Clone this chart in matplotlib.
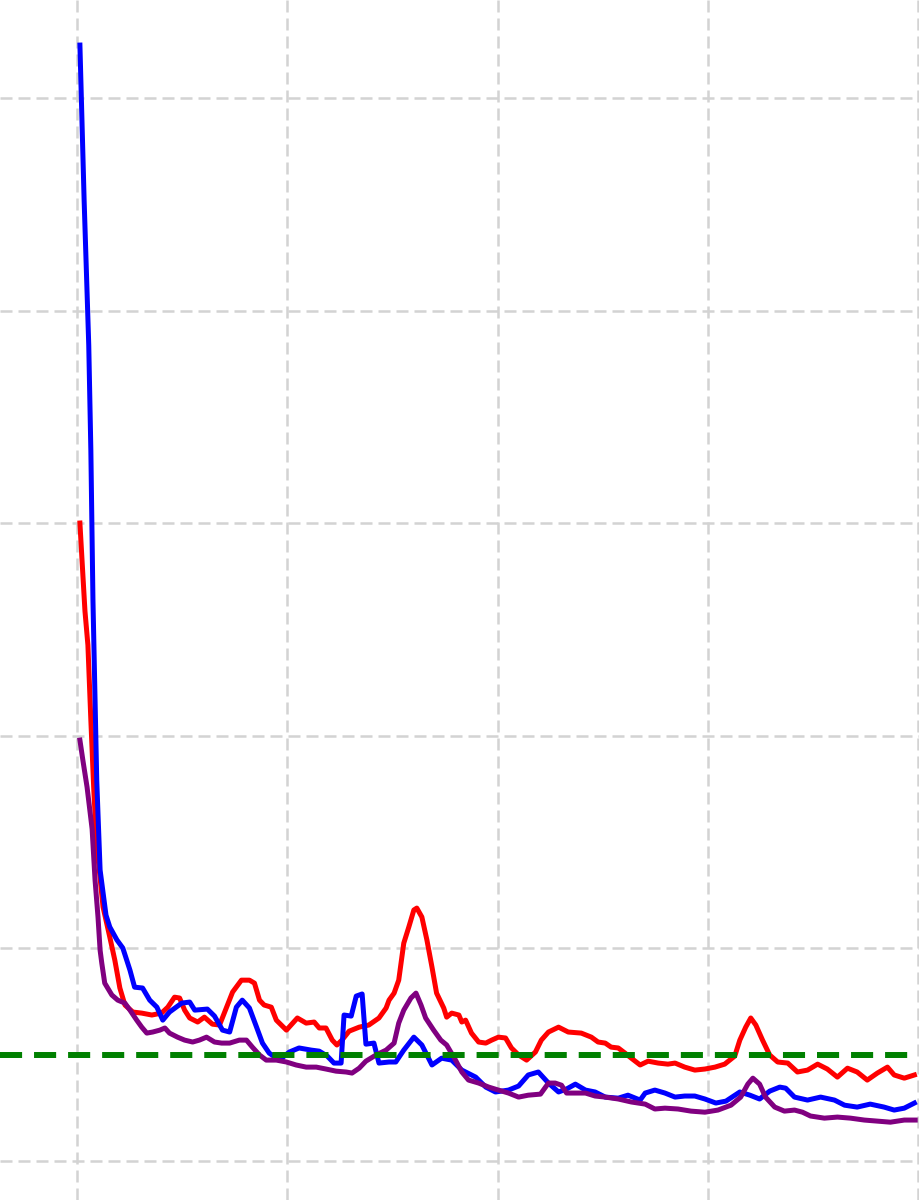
import matplotlib

matplotlib.use("Agg")
import matplotlib.pyplot as plt

# values (x: epoch, y: loss)
blue_x = [0.7, 1.7, 2.8, 3.3, 3.8, 4.3, 4.7, 5.5, 6.9, 7.8, 9.5, 10.9, 12.6, 13.7,
          15.6, 17.3, 19.0, 20.4, 22.0, 24.9, 26.8, 28.0, 31.0, 32.7, 34.6, 36.3,
          37.9, 39.3, 41.0, 42.7, 44.1, 45.7, 48.1, 50.5, 52.8, 55.7, 57.6, 59.5,
          61.1, 62.8, 63.5, 65.2, 66.4, 67.8, 68.7, 70.6, 71.8, 74.2, 75.8, 77.7,
          80.1, 82.0, 84.4, 86.7, 89.1, 91.5, 94.8, 97.2, 99.5, 102.6, 105.0,
          107.3, 109.7, 112.1, 114.5, 116.4, 118.5, 120.9, 123.2, 125.6, 128.7,
          131.0, 133.9, 135.1, 137.4, 139.8, 142.2, 144.5, 146.9, 149.3, 151.9,
          154.3, 157.6, 160.0, 162.3, 164.7, 167.1, 168.5, 170.6, 173.7, 176.8,
          180.1, 182.5, 185.5, 188.6, 191.9, 194.3, 196.7, 199.1]
blue_y = [5.249, 4.520, 3.838, 3.344, 2.639, 2.168, 1.792, 1.369, 1.157, 1.101,
          1.040, 1.002, 0.898, 0.818, 0.814, 0.757, 0.724, 0.663, 0.701, 0.743,
          0.748, 0.710, 0.715, 0.682, 0.616, 0.607, 0.724, 0.757, 0.720, 0.630,
          0.555, 0.508, 0.475, 0.513, 0.532, 0.522, 0.517, 0.494, 0.461, 0.461,
          0.687, 0.682, 0.776, 0.786, 0.550, 0.555, 0.461, 0.466, 0.466, 0.522,
          0.583, 0.546, 0.452, 0.484, 0.475, 0.428, 0.395, 0.348, 0.325, 0.334,
          0.353, 0.405, 0.419, 0.367, 0.325, 0.339, 0.362, 0.334, 0.325, 0.301,
          0.296, 0.310, 0.287, 0.320, 0.334, 0.320, 0.301, 0.306, 0.306, 0.292,
          0.273, 0.282, 0.325, 0.310, 0.292, 0.329, 0.348, 0.343, 0.301, 0.287,
          0.301, 0.287, 0.263, 0.254, 0.268, 0.254, 0.240, 0.249, 0.273]

red_x = [0.7, 1.2, 1.9, 2.6, 3.3, 4.0, 4.7, 6.2, 7.8, 9.0, 10.2, 11.4, 13.3, 15.4,
         17.8, 20.1, 21.6, 23.2, 24.4, 25.6, 26.8, 28.7, 30.3, 32.2, 33.9, 35.5,
         37.0, 39.1, 41.0, 42.2, 43.4, 44.5, 46.2, 47.4, 49.8, 52.4, 54.5, 56.4,
         57.6, 59.2, 60.7, 61.8, 63.0, 64.7, 67.1, 69.4, 71.8, 73.5, 74.2, 75.4,
         76.5, 77.7, 78.9, 80.1, 80.8, 82.0, 83.2, 84.4, 85.5, 87.2, 87.9, 89.1,
         90.8, 91.5, 92.4, 93.8, 95.5, 97.2, 98.6, 100.2, 101.9, 103.3, 105.0,
         106.9, 109.0, 110.4, 112.1, 114.5, 116.8, 119.9, 122.3, 123.9, 125.6,
         127.0, 128.7, 130.3, 131.8, 133.9, 135.8, 138.2, 140.5, 142.2, 144.5,
         146.9, 149.3, 151.7, 154.0, 156.4, 157.6, 159.0, 160.2, 161.4, 163.0,
         164.7, 166.6, 169.0, 171.3, 173.7, 176.1, 178.4, 180.8, 183.2, 185.5,
         187.9, 190.3, 192.7, 194.3, 196.7, 199.1]
red_y = [3.001, 2.827, 2.587, 2.427, 2.074, 1.745, 1.486, 1.195, 1.054, 0.945,
         0.814, 0.734, 0.701, 0.696, 0.687, 0.696, 0.724, 0.771, 0.767, 0.710,
         0.673, 0.654, 0.677, 0.644, 0.640, 0.720, 0.795, 0.851, 0.851, 0.837,
         0.757, 0.734, 0.724, 0.663, 0.616, 0.673, 0.649, 0.654, 0.626, 0.626,
         0.569, 0.546, 0.569, 0.611, 0.630, 0.640, 0.673, 0.720, 0.757, 0.790,
         0.851, 1.025, 1.101, 1.181, 1.190, 1.148, 1.040, 0.913, 0.790, 0.720,
         0.677, 0.696, 0.687, 0.654, 0.663, 0.602, 0.560, 0.555, 0.569, 0.583,
         0.579, 0.532, 0.499, 0.475, 0.513, 0.569, 0.607, 0.630, 0.607, 0.602,
         0.583, 0.560, 0.555, 0.536, 0.532, 0.508, 0.484, 0.452, 0.470, 0.461,
         0.456, 0.461, 0.442, 0.428, 0.433, 0.442, 0.456, 0.494, 0.569, 0.630,
         0.673, 0.640, 0.569, 0.499, 0.466, 0.461, 0.419, 0.428, 0.456, 0.433,
         0.395, 0.437, 0.419, 0.381, 0.414, 0.442, 0.405, 0.390, 0.405]

purple_x = [0.7, 1.4, 2.4, 3.6, 4.3, 5.0, 5.5, 5.9, 6.6, 8.3, 9.7, 11.4, 12.6,
            14.2, 15.4, 16.6, 18.0, 19.7, 20.9, 22.0, 23.9, 25.6, 27.5, 29.1,
            30.8, 32.7, 34.4, 36.3, 38.6, 40.3, 41.7, 43.4, 45.0, 47.4, 49.8,
            52.1, 54.5, 56.9, 59.2, 61.6, 64.0, 65.4, 67.1, 68.7, 71.1, 73.5,
            75.4, 76.5, 77.7, 79.4, 80.6, 81.8, 82.9, 84.8, 86.5, 87.9, 90.0,
            91.5, 93.1, 95.5, 97.9, 100.2, 102.6, 105.0, 107.3, 110.2, 112.1,
            113.7, 115.2, 116.4, 118.5, 120.9, 123.2, 125.6, 128.7, 131.8, 135.1,
            137.4, 139.8, 142.9, 146.0, 149.3, 152.4, 155.5, 157.8, 159.5, 160.7,
            162.3, 163.7, 165.9, 168.2, 170.6, 172.5, 174.4, 177.7, 180.8, 183.9,
            187.2, 190.3, 193.4, 196.7, 199.3]
purple_y = [1.980, 1.886, 1.759, 1.562, 1.322, 1.148, 0.992, 0.931, 0.837, 0.781,
            0.757, 0.743, 0.710, 0.663, 0.630, 0.602, 0.607, 0.616, 0.626, 0.602,
            0.583, 0.569, 0.560, 0.569, 0.583, 0.560, 0.555, 0.555, 0.569, 0.569,
            0.536, 0.499, 0.475, 0.475, 0.466, 0.452, 0.442, 0.442, 0.433, 0.423,
            0.419, 0.414, 0.437, 0.470, 0.499, 0.522, 0.555, 0.649, 0.710, 0.767,
            0.790, 0.734, 0.673, 0.616, 0.569, 0.546, 0.475, 0.419, 0.381, 0.367,
            0.348, 0.334, 0.320, 0.301, 0.310, 0.315, 0.367, 0.367, 0.357, 0.320,
            0.320, 0.320, 0.306, 0.301, 0.292, 0.278, 0.268, 0.245, 0.249, 0.245,
            0.235, 0.230, 0.240, 0.263, 0.301, 0.362, 0.390, 0.362, 0.301, 0.254,
            0.235, 0.240, 0.230, 0.212, 0.202, 0.207, 0.202, 0.193, 0.188, 0.183,
            0.193, 0.193]

target = 0.5
x_ticks = [0, 50, 100, 150, 200]
y_ticks = [0, 1, 2, 3, 4, 5]

fig = plt.figure(figsize=(9.19, 12), dpi=100)
ax = fig.add_axes([0, 0, 1, 1])

ax.plot(red_x, red_y, color="red", lw=3.6, zorder=3)
ax.plot(blue_x, blue_y, color="blue", lw=3.6, zorder=4)
ax.plot(purple_x, purple_y, color="purple", lw=3.6, zorder=5)
ax.axhline(target, color="green", lw=4.3, linestyle=(0, (3.7, 2.0)), zorder=6)

ax.set_xticks(x_ticks)
ax.set_yticks(y_ticks)
ax.grid(True, color="#d3d3d3", lw=1.8, linestyle=(0, (4.8, 2.4)))
ax.tick_params(length=0, labelbottom=False, labelleft=False)
for s in ax.spines.values():
    s.set_visible(False)

ax.set_xlim(-18.3, 200.2)
ax.set_ylim(-0.183, 5.461)

fig.savefig("out.png", dpi=100)
